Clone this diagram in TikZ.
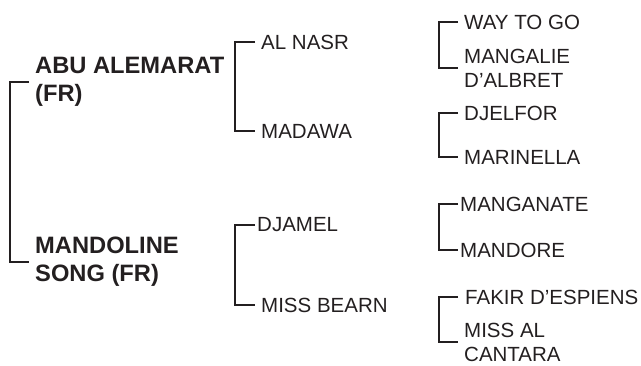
\documentclass[tikz,border=0pt]{standalone}
\usepackage{fontspec}
\setmainfont{Liberation Sans}
\definecolor{txt}{RGB}{35,31,32}
\tikzset{
  lbl/.style={anchor=west, inner sep=0pt, align=left, text=txt},
  reg/.style={lbl, font=\fontsize{20.5}{24}\selectfont},
  bld/.style={lbl, font=\bfseries\fontsize{23.7}{28}\selectfont},
  br/.style={draw=txt, line width=1.9pt}
}
\begin{document}
\begin{tikzpicture}[x=1pt,y=1pt]
\useasboundingbox (0,0) rectangle (641,365);
% level 1
\node[bld] (abu) at (35,283) {ABU ALEMARAT\\(FR)};
\node[bld] (mand) at (35,103) {MANDOLINE\\SONG (FR)};
% level 2
\node[reg] (alnasr) at (261,323) {AL NASR};
\node[reg] (madawa) at (261,234) {MADAWA};
\node[reg] (djamel) at (257,140) {DJAMEL};
\node[reg] (missbearn) at (261,60) {MISS BEARN};
% level 3
\node[reg] (way) at (464,343) {WAY TO GO};
\node[reg] (mangalie) at (464,297) {MANGALIE\\D’ALBRET};
\node[reg] (djelfor) at (464,252) {DJELFOR};
\node[reg] (marinella) at (464,208) {MARINELLA};
\node[reg] (manganate) at (460,161) {MANGANATE};
\node[reg] (mandore) at (460,115) {MANDORE};
\node[reg] (fakir) at (465,68) {FAKIR D’ESPIENS};
\node[reg] (missal) at (464,23) {MISS AL\\CANTARA};
% brackets
\draw[br] ([xshift=-6pt]abu.west) -- ++(-19,0) |- ([xshift=-6pt]mand.west);
\draw[br] ([xshift=-6pt]alnasr.west) -- ++(-20,0) |- ([xshift=-6pt]madawa.west);
\draw[br] ([xshift=-2pt]djamel.west) -- ++(-20,0) |- ([xshift=-6pt]missbearn.west);
\draw[br] ([xshift=-6pt]way.west) -- ++(-19,0) |- ([xshift=-6pt]mangalie.west);
\draw[br] ([xshift=-6pt]djelfor.west) -- ++(-19,0) |- ([xshift=-6pt]marinella.west);
\draw[br] ([xshift=-2pt]manganate.west) -- ++(-19,0) |- ([xshift=-2pt]mandore.west);
\draw[br] ([xshift=-7pt]fakir.west) -- ++(-19,0) |- ([xshift=-6pt]missal.west);
\end{tikzpicture}
\end{document}
